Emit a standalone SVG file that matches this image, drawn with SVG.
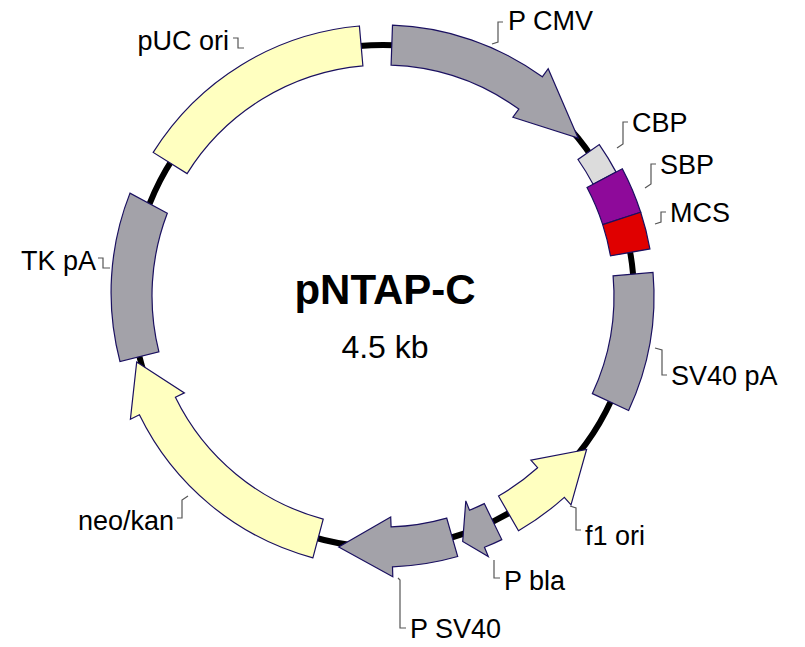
<svg xmlns="http://www.w3.org/2000/svg" width="805" height="647" viewBox="0 0 805 647">
<style>
.f{stroke:#1a1060;stroke-width:1.2}
.g{fill:#a3a2a9}.y{fill:#ffffc0}
.l{fill:none;stroke:#555;stroke-width:1.2}
text{font-family:"Liberation Sans",Arial,sans-serif;font-size:27px;fill:#000}
text.t{font-size:42px;font-weight:bold}
text.s{font-size:32px}
</style>
<rect width="805" height="647" fill="#fff"/>
<g id="backbone"><circle cx="383" cy="296" r="251" fill="none" stroke="#000" stroke-width="6"/></g>
<g id="pUCori"><path class="f y" d="M153.2,152.4 A271,271 0 0 1 359.4,26 L362.9,65.9 A231,231 0 0 0 187.1,173.6 Z"/></g>
<g id="PCMV"><path class="f g" d="M392.5,25.2 A271,271 0 0 1 542.3,76.8 L548.2,68.7 L578.1,138 L512.9,117.2 L518.8,109.1 A231,231 0 0 0 391.1,65.1 Z"/></g>
<g id="CBP"><path class="f" fill="#dcdcdc" d="M599.3,144.6 A264,264 0 0 1 616.1,172.1 L593.1,184.3 A238,238 0 0 0 578,159.5 Z"/></g>
<g id="SBP"><path class="f" fill="#8e0a9a" d="M622.3,168.8 A271,271 0 0 1 640.7,212.3 L602.7,224.6 A231,231 0 0 0 587,187.5 Z"/></g>
<g id="MCS"><path class="f" fill="#e00000" d="M640.7,212.3 A271,271 0 0 1 649.9,248.9 L610.5,255.9 A231,231 0 0 0 602.7,224.6 Z"/></g>
<g id="SV40pA"><path class="f g" d="M653,272.4 A271,271 0 0 1 628.6,410.5 L592.4,393.6 A231,231 0 0 0 613.1,275.9 Z"/></g>
<g id="f1ori"><path class="f y" d="M518.5,530.7 A271,271 0 0 0 564.3,497.4 L571,504.8 L586.6,449.5 L530.9,460.2 L537.6,467.7 A231,231 0 0 1 498.5,496 Z"/></g>
<g id="Pbla"><path class="f g" d="M501.8,539.6 A271,271 0 0 1 484.5,547.3 L488.3,556.5 L462.7,541.4 L465.8,500.9 L469.5,510.2 A231,231 0 0 0 484.3,503.6 Z"/></g>
<g id="PSV40"><path class="f g" d="M457.7,556.5 A271,271 0 0 1 392.5,566.8 L392.8,576.8 L338.7,547.1 L390.7,516.9 L391.1,526.9 A231,231 0 0 0 446.7,518.1 Z"/></g>
<g id="neokan"><path class="f y" d="M312.9,557.8 A271,271 0 0 1 139.4,414.8 L130.4,419.2 L136.7,362 L184.4,392.9 L175.4,397.3 A231,231 0 0 0 323.2,519.1 Z"/></g>
<g id="TKpA"><path class="f g" d="M120,361.6 A271,271 0 0 1 130,193.1 L167.3,213.2 A231,231 0 0 0 158.9,351.9 Z"/></g>
<g id="connectors">
<polyline class="l" points="233,38 238,38 238,48 244,48"/>
<polyline class="l" points="503,22 498,22 498,42 492,44"/>
<polyline class="l" points="628,122 623,122 623,144 617,148"/>
<polyline class="l" points="656,164 651,164 651,184 645,188"/>
<polyline class="l" points="666,212 661,212 661,222 655,224"/>
<polyline class="l" points="667,375 662,375 662,350 655,348"/>
<polyline class="l" points="581,530 576,530 576,508 570,506"/>
<polyline class="l" points="500,578 494,578 494,566 494,560"/>
<polyline class="l" points="406,628 400,628 400,580 398,578"/>
<polyline class="l" points="177,518 182,518 182,500 188,496"/>
<polyline class="l" points="98,258 103,258 103,268 110,268"/>
</g>
<g id="labels">
<text x="229" y="50" text-anchor="end">pUC ori</text>
<text x="508" y="30">P CMV</text>
<text x="632" y="132">CBP</text>
<text x="660" y="174">SBP</text>
<text x="670" y="222">MCS</text>
<text x="671" y="385">SV40 pA</text>
<text x="585" y="545">f1  ori</text>
<text x="504" y="590">P bla</text>
<text x="410" y="638">P SV40</text>
<text x="174" y="530" text-anchor="end">neo/kan</text>
<text x="96" y="270" text-anchor="end">TK pA</text>
<text class="t" x="385" y="304" text-anchor="middle">pNTAP-C</text>
<text class="s" x="385" y="358" text-anchor="middle">4.5 kb</text>
</g>
</svg>
